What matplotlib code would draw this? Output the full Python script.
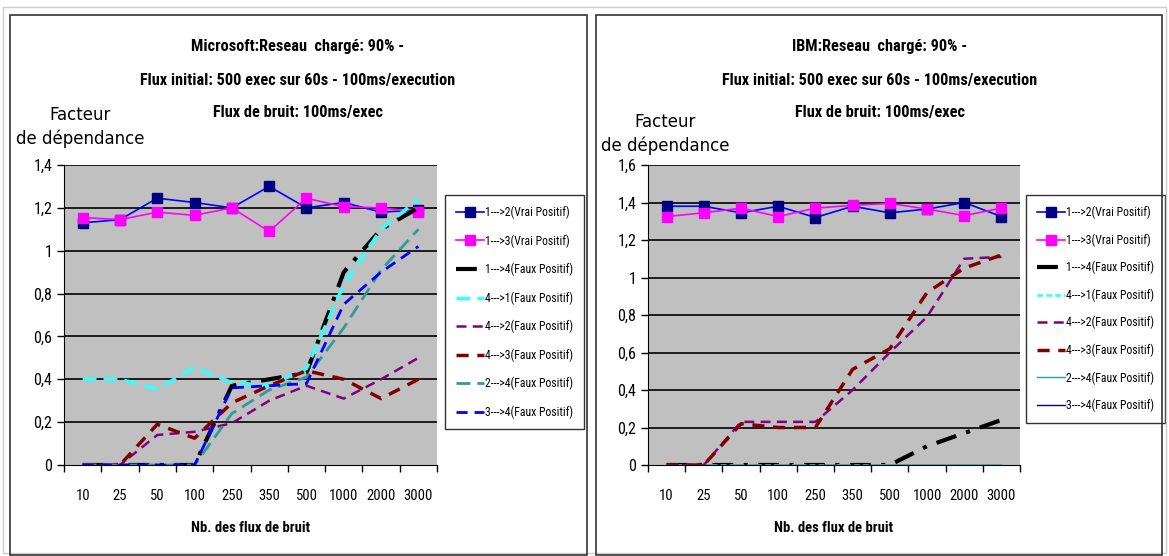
import matplotlib.pyplot as plt
from matplotlib.patches import Rectangle

plt.switch_backend('Agg')

cats = ['10', '25', '50', '100', '250', '350', '500', '1000', '2000', '3000']
labels = ['1--->2(Vrai Positif)', '1--->3(Vrai Positif)', '1--->4(Faux Positif)',
          '4--->1(Faux Positif)', '4--->2(Faux Positif)', '4--->3(Faux Positif)',
          '2--->4(Faux Positif)', '3--->4(Faux Positif)']

ms_1_2 = [1.13, 1.145, 1.245, 1.225, 1.2, 1.30, 1.2, 1.225, 1.18, 1.19]
ms_1_3 = [1.155, 1.145, 1.18, 1.165, 1.2, 1.09, 1.245, 1.205, 1.2, 1.18]
ms_1_4 = [0, 0, 0, 0, 0.37, 0.40, 0.43, 0.90, 1.10, 1.20]
ms_4_1 = [0.40, 0.40, 0.355, 0.455, 0.385, 0.37, 0.45, 0.84, 1.10, 1.24]
ms_4_2 = [0, 0, 0.14, 0.155, 0.195, 0.30, 0.37, 0.31, 0.40, 0.50]
ms_4_3 = [0, 0, 0.19, 0.125, 0.29, 0.37, 0.44, 0.40, 0.31, 0.40]
ms_2_4 = [0, 0, 0, 0, 0.24, 0.35, 0.41, 0.64, 0.91, 1.10]
ms_3_4 = [0, 0, 0, 0, 0.36, 0.37, 0.38, 0.75, 0.90, 1.02]

ibm_1_2 = [1.38, 1.38, 1.345, 1.38, 1.32, 1.38, 1.345, 1.365, 1.40, 1.325]
ibm_1_3 = [1.325, 1.345, 1.37, 1.325, 1.37, 1.385, 1.395, 1.365, 1.33, 1.37]
ibm_1_4 = [0, 0, 0, 0, 0, 0, 0, 0.10, 0.17, 0.24]
ibm_4_1 = [0, 0, 0, 0, 0, 0, 0, 0, 0, 0]
ibm_4_2 = [0, 0, 0.23, 0.23, 0.23, 0.40, 0.60, 0.79, 1.10, 1.11]
ibm_4_3 = [0, 0, 0.22, 0.20, 0.20, 0.51, 0.62, 0.92, 1.05, 1.12]
ibm_2_4 = [0, 0, 0, 0, 0, 0, 0, 0, 0, 0]
ibm_3_4 = [0, 0, 0, 0, 0, 0, 0, 0, 0, 0]

COND = 'Roboto Condensed'
W, H = 1169, 556

fig = plt.figure(figsize=(W / 100, H / 100), dpi=100)


def px(x0, y0, x1, y1):
    return [x0 / W, 1 - y1 / H, (x1 - x0) / W, (y1 - y0) / H]


# outer frames
fig.add_artist(Rectangle((3 / W, 1 - 553 / H), 1163 / W, 546 / H, transform=fig.transFigure,
                         fill=False, edgecolor='#cccccc', linewidth=1))
for x0, x1 in [(10, 587), (596, 1162)]:
    fig.add_artist(Rectangle((x0 / W, 1 - 555 / H), (x1 - x0) / W, 540 / H, transform=fig.transFigure,
                             fill=False, edgecolor='#333333', linewidth=1.2))


def ylab(v):
    if abs(v) < 1e-9:
        return '0'
    s = '%.1f' % v
    if s.endswith('.0'):
        s = s[:-2]
    return s.replace('.', ',')


def draw_panel(ax, series, styles, ymax, title_lines, title_x, leg_box, leg_sp, ylab_xy):
    x = list(range(len(cats)))
    for vals, st, lab in zip(series, styles, labels):
        ax.plot(x, vals, label=lab, **st)
    ax.set_facecolor('#c0c0c0')
    ax.set_xlim(-0.5, len(cats) - 0.5)
    ax.set_ylim(0, ymax)
    yt = [i * 0.2 for i in range(int(round(ymax / 0.2)) + 1)]
    ax.set_yticks(yt)
    ax.set_yticklabels([ylab(v) for v in yt], family=COND, fontsize=11.5)
    for v in yt[1:]:
        ax.axhline(v, color='black', linewidth=1.2, zorder=0.5)
    ax.set_xticks([i - 0.5 for i in range(len(cats) + 1)])
    ax.set_xticklabels([])
    ax.set_xticks(x, minor=True)
    ax.set_xticklabels(cats, minor=True, family=COND, fontsize=10.5)
    ax.tick_params(axis='x', which='minor', length=0, pad=17)
    ax.tick_params(axis='both', which='major', direction='out', length=5, width=1)
    for s in ['top', 'right']:
        ax.spines[s].set_visible(False)
    ax.set_xlabel('Nb. des flux de bruit', family=COND, fontsize=10.5, fontweight='bold', labelpad=13)
    for ty, line in zip([47, 81, 112], title_lines):
        fig.text(title_x / W, 1 - ty / H, line, ha='center', va='center', fontsize=11.7,
                 fontweight='bold', family=COND)
    fig.text(ylab_xy[0] / W, 1 - ylab_xy[1] / H, 'Facteur\nde dépendance', ha='center', va='top',
             fontsize=12, family='DejaVu Sans', linespacing=1.35)
    x0, y0, x1, y1 = leg_box
    leg = ax.legend(loc='upper left', bbox_to_anchor=(x0 / W, 1 - y0 / H), bbox_transform=fig.transFigure,
                    prop={'family': COND, 'size': 8.5}, frameon=True, fancybox=False, borderaxespad=0,
                    handlelength=2.4, handletextpad=0.1, labelspacing=leg_sp, borderpad=0.9)
    leg.get_frame().set_edgecolor('black')
    leg.get_frame().set_linewidth(1)


ms_styles = [
    dict(color='#0000ff', linewidth=1.2, marker='s', markersize=7.5, markerfacecolor='#000080', markeredgecolor='#000080'),
    dict(color='#ff00ff', linewidth=1.2, marker='s', markersize=7.5, markerfacecolor='#ff00ff', markeredgecolor='#ff00ff'),
    dict(color='black', linewidth=3, linestyle=(0, (5, 2.5, 1, 2.5))),
    dict(color='#33ffff', linewidth=2.5, linestyle=(0, (4, 2))),
    dict(color='#800080', linewidth=1.8, linestyle=(0, (4, 2.5))),
    dict(color='#800000', linewidth=2.5, linestyle=(0, (3.5, 2.5))),
    dict(color='#339999', linewidth=2, linestyle=(0, (5, 2.5))),
    dict(color='#0000ff', linewidth=2, linestyle=(0, (4, 2.5))),
]
ibm_styles = list(ms_styles)
ibm_styles[3] = dict(color='#33ffff', linewidth=2, linestyle=(0, (2, 1.2)))
ibm_styles[6] = dict(color='#339999', linewidth=1, linestyle='-')
ibm_styles[7] = dict(color='#000080', linewidth=1, linestyle='-')

ax1 = fig.add_axes(px(64, 165, 437, 465))
draw_panel(ax1, [ms_1_2, ms_1_3, ms_1_4, ms_4_1, ms_4_2, ms_4_3, ms_2_4, ms_3_4], ms_styles, 1.4,
           ['Microsoft:Reseau  chargé: 90% -', 'Flux initial: 500 exec sur 60s - 100ms/execution',
            'Flux de bruit: 100ms/exec'], 298, (445, 195, 583, 429), 1.28, (80, 106))

ax2 = fig.add_axes(px(648, 165, 1020, 465))
draw_panel(ax2, [ibm_1_2, ibm_1_3, ibm_1_4, ibm_4_1, ibm_4_2, ibm_4_3, ibm_2_4, ibm_3_4], ibm_styles, 1.6,
           ['IBM:Reseau  chargé: 90% -', 'Flux initial: 500 exec sur 60s - 100ms/execution',
            'Flux de bruit: 100ms/exec'], 880, (1026, 195, 1163, 420), 1.2, (665, 113))

plt.savefig('out.png', dpi=100)
